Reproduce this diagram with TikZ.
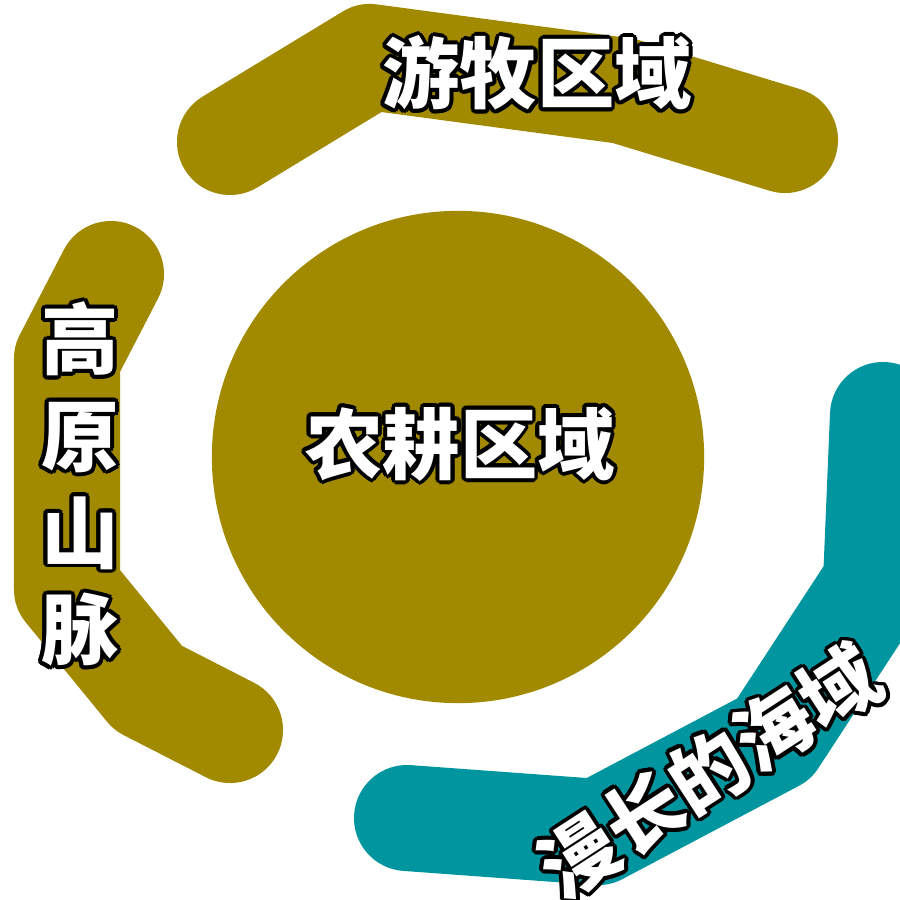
\documentclass[tikz,border=0pt]{standalone}
\usepackage{fontspec}
\usepackage{contour}
\usetikzlibrary{positioning}
\newfontfamily\cjk{Noto Sans CJK SC}
\definecolor{olivebelt}{HTML}{A18900}
\definecolor{seabelt}{HTML}{00959F}
\contourlength{1.1pt}
\newcommand{\outl}[1]{\contour{black}{#1}}
\tikzset{
  beltline/.style={line width=1.06cm, line cap=round, line join=round},
  regiontext/.style={font=\cjk\bfseries\fontsize{22}{27.5}\selectfont, text=white, inner sep=0pt}
}

\begin{document}
\begin{tikzpicture}[x=0.01cm, y=-0.01cm]
    \clip (0,0) rectangle (900,900);
    % farmland in the middle
    \node[circle, fill=olivebelt, minimum size=4.92cm, inner sep=0pt] (farm) at (458,457) {};
    % steppe belt
    \coordinate (s1) at (230,142);
    \coordinate (s2) at (370,57);
    \coordinate (s3) at (624,91);
    \coordinate (s4) at (785,140);
    \draw[beltline, olivebelt] (s1) -- (s2) -- (s3) -- (s4);
    % mountain belt
    \coordinate (m1) at (111,274);
    \coordinate (m2) at (67,359);
    \coordinate (m3) at (67,589);
    \coordinate (m4) at (148,688);
    \coordinate (m5) at (230,730);
    \draw[beltline, olivebelt] (m1) -- (m2) -- (m3) -- (m4) -- (m5);
    % sea belt
    \coordinate (w1) at (883,415);
    \coordinate (w2) at (876,583);
    \coordinate (w3) at (774,739);
    \coordinate (w4) at (598,832);
    \coordinate (w5) at (407,818);
    \draw[beltline, seabelt] (w1) -- (w2) -- (w3) -- (w4) -- (w5);
    % names
    \node[regiontext] (steppe) at (537,75) {\outl{游牧区域}};
    \node[regiontext] (farmname) at (460,446) {\outl{农耕区域}};
    \node[regiontext, align=center] (mountain) at (80,486) {\outl{高}\\\outl{原}\\\outl{山}\\\outl{脉}};
    \node[regiontext, rotate=33] (sea) at (710,773) {\outl{漫长的海域}};
\end{tikzpicture}
\end{document}
